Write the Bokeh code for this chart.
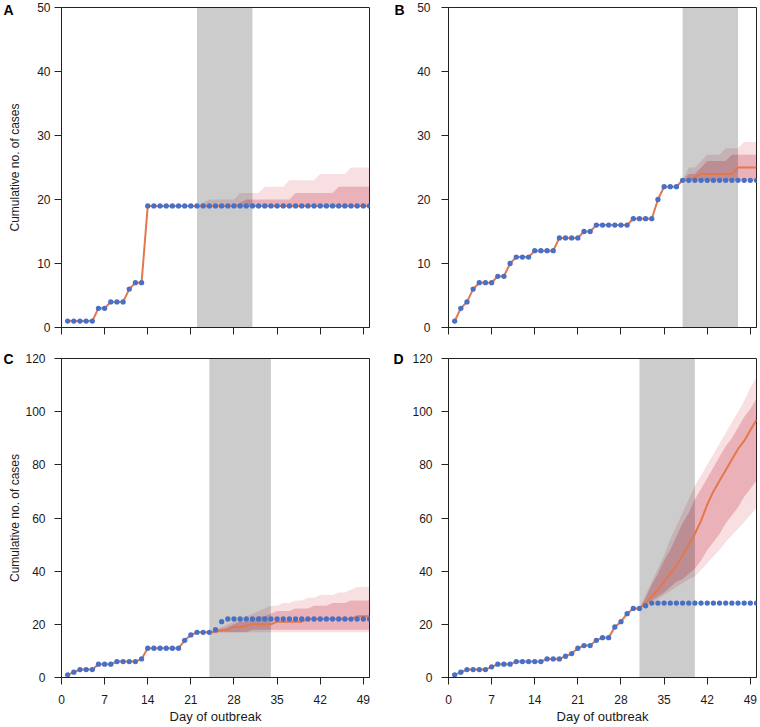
from bokeh.plotting import figure
from bokeh.layouts import column, row
from bokeh.models import Range1d, FixedTicker, LinearAxis
from bokeh.embed import file_html
from bokeh.resources import INLINE

# ---------------- data ----------------
days = list(range(1, 51))
x_ticks = [0, 7, 14, 21, 28, 35, 42, 49]

# Panel A
obs_A = [1, 1, 1, 1, 1, 3, 3, 4, 4, 4, 6, 7, 7] + [19] * 37
start_A = 22
gray_A = (22, 31)
med_A = [19] * 29
outer_lo_A = [19] * 29
outer_hi_A = [19, 19.5, 20, 20, 20, 20, 20, 21, 21, 21, 21, 22, 22, 22, 22,
              23, 23, 23, 23, 23, 24, 24, 24, 24, 24, 25, 25, 25, 25]
inner_lo_A = [19] * 29
inner_hi_A = [19] * 7 + [19.5] + [20] * 8 + [21] * 7 + [22] * 6

# Panel B
obs_B = [1, 3, 4, 6, 7, 7, 7, 8, 8, 10, 11, 11, 11, 12, 12, 12, 12, 14, 14, 14, 14,
         15, 15, 16, 16, 16, 16, 16, 16, 17, 17, 17, 17, 20, 22, 22, 22] + [23] * 13
start_B = 38
gray_B = (38, 47)
med_B = [23, 23, 23.5, 24, 24, 24, 24, 24, 24, 25, 25, 25, 25]
outer_lo_B = [23] * 13
outer_hi_B = [23, 25, 25, 26, 27, 27, 27, 28, 28, 28, 29, 29, 29]
inner_lo_B = [23] * 13
inner_hi_B = [23, 24, 24, 25, 26, 26, 26, 26, 27, 27, 27, 27, 27]

# Panel C
obs_C = [1, 2, 3, 3, 3, 5, 5, 5, 6, 6, 6, 6, 7, 11, 11, 11, 11, 11, 11, 14, 16,
         17, 17, 17, 18, 21] + [22] * 24
start_C = 24
gray_C = (24, 34)
med_C = [17, 17, 18, 18, 19, 19, 19.5, 20, 20, 20, 20, 21, 21, 21, 21, 21,
         22, 22, 22, 22, 22, 22, 22, 22, 23, 23, 23]
outer_lo_C = [17] * 27
outer_hi_C = [17, 18, 19, 20, 21, 22, 23, 24, 25, 26, 27, 27, 28, 28, 29, 29,
              30, 30, 31, 31, 31, 32, 32, 33, 34, 34, 34]
inner_lo_C = [17] * 7 + [18] * 20
inner_hi_C = [17, 18, 18, 19, 20, 21, 21, 22, 23, 23, 24, 25, 25, 25, 26, 26,
              26, 27, 27, 27, 28, 28, 28, 29, 29, 29, 29]

# Panel D
obs_D = [1, 2, 3, 3, 3, 3, 4, 5, 5, 5, 6, 6, 6, 6, 6, 7, 7, 7, 8, 9, 11, 12, 12,
         14, 15, 15, 19, 21, 24, 26, 26, 27] + [28] * 18
start_D = 31
gray_D = (31, 40)
med_D = [26, 28, 30.5, 33, 36, 39, 42, 46, 50, 54, 59, 65, 70, 74, 78, 82, 86, 89, 93, 97]
outer_lo_D = [26, 27, 28, 29.5, 31, 32.5, 34, 35.5, 37, 38, 40.5, 43, 45.5, 48, 51,
              53.5, 56, 58.5, 61, 64]
outer_hi_D = [26, 31, 36, 41, 46, 52, 57, 62, 67, 72, 76, 80, 84, 88, 92, 96, 100,
              104, 109, 113]
inner_lo_D = [26, 27.5, 29, 30.5, 32, 34, 36, 37, 39, 41, 44, 48, 51, 54, 58, 61,
              64, 68, 71, 74]
inner_hi_D = [26, 30, 35, 39, 44, 48, 53, 58, 62, 67, 71, 75, 79, 83, 87, 90, 94,
              98, 101, 105]

# ---------------- styling ----------------
ORANGE = "#e3784d"
BLUE = "#4a70c6"
BAND = "#c8283c"
TXT = "#1a1a1a"
AXC = "#222222"
FONT = "Liberation Sans"


def panel(letter, obs, start, gray, med, olo, ohi, ilo, ihi, ymax, ystep,
          left_col, bottom_row, tick_standoff, ylab_standoff, letter_standoff):
    width = 380
    height = 377 if bottom_row else 349
    p = figure(width=width, height=height, output_backend="svg",
               toolbar_location=None, x_range=Range1d(0, 50),
               y_range=Range1d(0, ymax))
    p.min_border_left = 61 if left_col else 68
    p.min_border_right = 11 if left_col else 4
    p.min_border_top = 9 if bottom_row else 7
    p.min_border_bottom = 48 if bottom_row else 22
    p.outline_line_color = AXC
    p.outline_line_width = 1
    p.xgrid.grid_line_color = None
    p.ygrid.grid_line_color = None
    p.background_fill_color = "white"
    p.border_fill_color = "white"

    proj_days = days[start - 1:]
    # prediction intervals
    p.varea(x=proj_days, y1=olo, y2=ohi, fill_color=BAND, fill_alpha=0.15)
    p.varea(x=proj_days, y1=ilo, y2=ihi, fill_color=BAND, fill_alpha=0.25)
    # forecast window
    p.quad(left=[gray[0]], right=[gray[1]], bottom=[0], top=[ymax],
           fill_color="black", fill_alpha=0.2, line_color=None)
    # fitted / projected median
    fit_x = days[:start - 1] + proj_days
    fit_y = obs[:start - 1] + med
    p.line(fit_x, fit_y, line_color=ORANGE, line_width=2)
    # observed
    p.scatter(days, obs, size=5.3, fill_color=BLUE, line_color=None)

    yticks = list(range(0, ymax + 1, ystep))
    p.xaxis.ticker = FixedTicker(ticks=x_ticks)
    p.yaxis.ticker = FixedTicker(ticks=yticks)
    for ax in (p.xaxis[0], p.yaxis[0]):
        ax.axis_line_color = AXC
        ax.major_tick_line_color = AXC
        ax.major_tick_out = 7
        ax.major_tick_in = 0
        ax.minor_tick_line_color = None
        ax.major_label_text_font = FONT
        ax.major_label_text_font_size = "12px"
        ax.major_label_text_color = TXT
        ax.axis_label_text_font = FONT
        ax.axis_label_text_font_style = "normal"
        ax.axis_label_text_color = TXT
    p.yaxis.major_label_standoff = tick_standoff
    if bottom_row:
        p.xaxis.axis_label = "Day of outbreak"
        p.xaxis.axis_label_text_font_size = "13px"
        p.xaxis.major_label_standoff = 10
        p.xaxis.axis_label_standoff = 2
    else:
        p.xaxis.major_label_overrides = {t: "" for t in x_ticks}
        p.xaxis.major_label_standoff = 0
    if left_col:
        p.yaxis.axis_label = "Cumulative no. of cases"
        p.yaxis.axis_label_text_font_size = "12px"
        p.yaxis.axis_label_standoff = ylab_standoff

    # panel letter, level with the top of the frame
    lax = LinearAxis(ticker=FixedTicker(ticks=[ymax]),
                     major_label_overrides={ymax: letter},
                     axis_line_color=None, major_tick_line_color=None,
                     minor_tick_line_color=None, major_tick_out=0,
                     major_tick_in=0, major_label_standoff=letter_standoff,
                     major_label_text_font=FONT,
                     major_label_text_font_style="bold",
                     major_label_text_font_size="14px",
                     major_label_text_color="black")
    p.add_layout(lax, "left")
    return p


pA = panel("A", obs_A, start_A, gray_A, med_A, outer_lo_A, outer_hi_A,
           inner_lo_A, inner_hi_A, 50, 10, True, False, 4, 12, -8)
pB = panel("B", obs_B, start_B, gray_B, med_B, outer_lo_B, outer_hi_B,
           inner_lo_B, inner_hi_B, 50, 10, False, False, 11, 0, 10)
pC = panel("C", obs_C, start_C, gray_C, med_C, outer_lo_C, outer_hi_C,
           inner_lo_C, inner_hi_C, 120, 20, True, True, 9, 0, -8)
pD = panel("D", obs_D, start_D, gray_D, med_D, outer_lo_D, outer_hi_D,
           inner_lo_D, inner_hi_D, 120, 20, False, True, 9, 0, 6)

layout = column(row(pA, pB, spacing=0), row(pC, pD, spacing=0), spacing=0)

open("out.html", "w").write(file_html(layout, INLINE))
